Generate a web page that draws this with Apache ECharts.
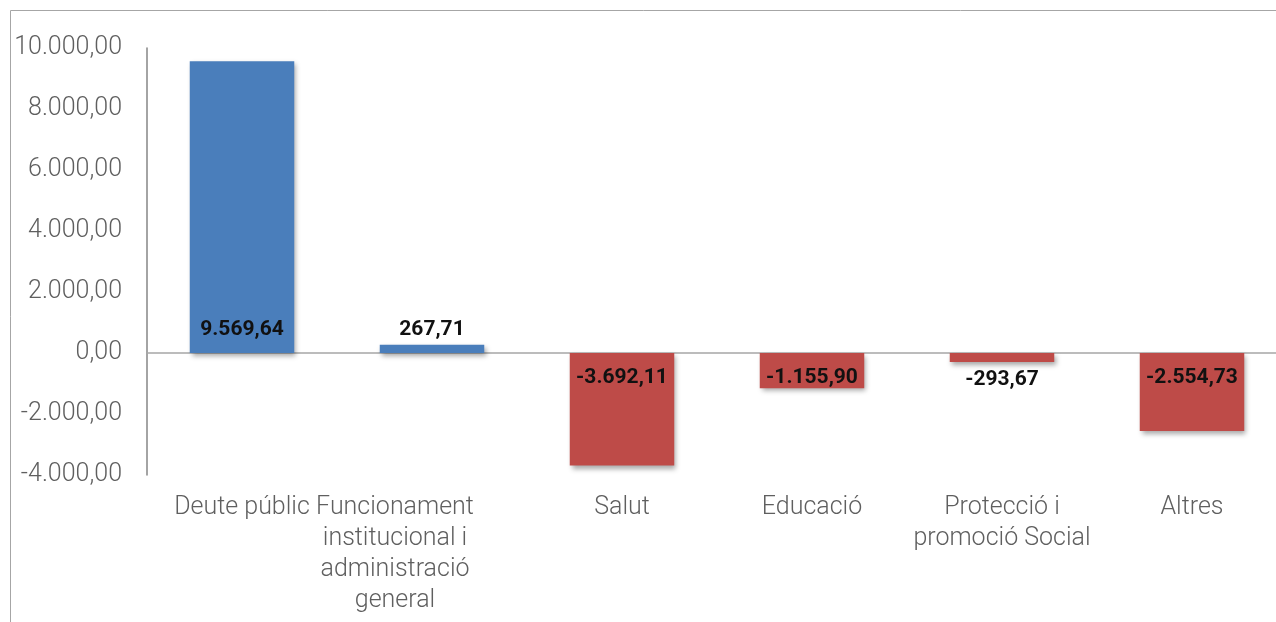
<!DOCTYPE html>
<html>
<head>
<meta charset="utf-8">
<script src="https://cdn.jsdelivr.net/npm/echarts@6/dist/echarts.min.js"></script>
<style>
  html, body { margin: 0; padding: 0; background: #fff; }
  #chart { width: 1276px; height: 622px; }
</style>
</head>
<body>
<div id="chart"></div>
<script>
// Budget variation by policy area
const categories = [
  'Deute públic',
  'Funcionament\ninstitucional i\nadministració\ngeneral',
  'Salut',
  'Educació',
  'Protecció i\npromoció Social',
  'Altres'
];
const values = [9569.64, 267.71, -3692.11, -1155.90, -293.67, -2554.73];
const yTicks = { min: -4000, max: 10000, step: 2000 };

const BLUE = '#4a7ebb';
const RED = '#be4b48';
const TEXT_GREY = '#5f5f5f';

// Catalan number format: 9.569,64
function fmt(v) {
  const neg = v < 0;
  const parts = Math.abs(v).toFixed(2).split('.');
  const int = parts[0].replace(/\B(?=(\d{3})+(?!\d))/g, '.');
  return (neg ? '-' : '') + int + ',' + parts[1];
}

const barData = values.map(v => {
  const small = Math.abs(v) < 600;
  let position, distance;
  if (v >= 0) { position = small ? 'top' : 'insideBottom'; distance = small ? 5 : 13; }
  else { position = small ? 'bottom' : 'insideTop'; distance = small ? 7 : 14; }
  return {
    value: v,
    itemStyle: { color: v >= 0 ? BLUE : RED },
    label: { position, distance }
  };
});

const chart = echarts.init(document.getElementById('chart'));
chart.setOption({
  animation: false,
  graphic: [{
    type: 'rect',
    shape: { x: 10.5, y: 10.5, width: 1400, height: 800 },
    style: { fill: 'none', stroke: '#a6a6a6', lineWidth: 1 },
    silent: true
  }],
  grid: { left: 147, top: 48, width: 1140, height: 427, outerBoundsMode: 'none', containLabel: false },
  xAxis: [
    {
      type: 'category',
      data: categories,
      axisLine: { show: true, onZero: true, lineStyle: { color: '#a6a6a6', width: 1.5 } },
      axisTick: { show: false },
      axisLabel: { show: false },
      splitLine: { show: false }
    },
    {
      type: 'category',
      data: categories,
      position: 'bottom',
      axisLine: { show: false, onZero: false },
      axisTick: { show: false },
      splitLine: { show: false },
      axisLabel: {
        interval: 0,
        margin: 17,
        fontFamily: 'Roboto',
        fontWeight: 300,
        fontSize: 25,
        lineHeight: 31,
        color: TEXT_GREY,
        formatter: function (val, idx) {
          return idx === 1 ? '{shift|' + val.split('\n').join('}\n{shift|') + '}' : val;
        },
        rich: {
          shift: {
            fontFamily: 'Roboto', fontWeight: 300, fontSize: 25, lineHeight: 31,
            color: TEXT_GREY, padding: [0, 74, 0, 0]
          }
        }
      }
    }
  ],
  yAxis: {
    type: 'value',
    min: yTicks.min,
    max: yTicks.max,
    interval: yTicks.step,
    axisLine: { show: true, lineStyle: { color: '#868686', width: 1.5 } },
    axisTick: { show: false },
    splitLine: { show: false },
    axisLabel: {
      margin: 25,
      fontFamily: 'Roboto',
      fontWeight: 300,
      fontSize: 25,
      color: TEXT_GREY,
      formatter: v => fmt(v)
    }
  },
  series: [{
    type: 'bar',
    xAxisIndex: 0,
    data: barData,
    barWidth: '55%',
    itemStyle: {
      shadowColor: 'rgba(0,0,0,0.35)',
      shadowBlur: 5,
      shadowOffsetX: 2,
      shadowOffsetY: 3
    },
    label: {
      show: true,
      fontFamily: 'Roboto',
      fontWeight: 'bold',
      fontSize: 21,
      color: '#111',
      formatter: p => fmt(p.value)
    }
  }]
});
</script>
</body>
</html>
